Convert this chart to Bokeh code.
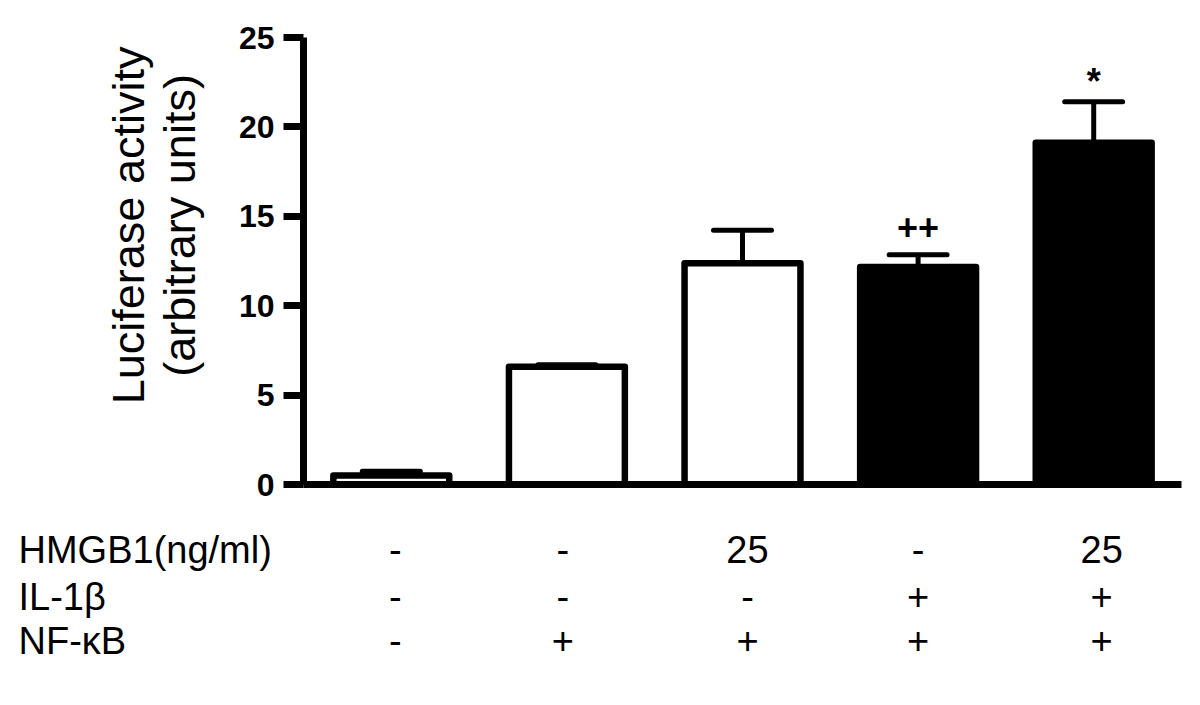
import math
from bokeh.plotting import figure
from bokeh.layouts import column, row
from bokeh.models import Range1d, FixedTicker, ColumnDataSource
from bokeh.core.properties import value
from bokeh.embed import file_html
from bokeh.resources import INLINE

# ---------------- data ----------------
means = [0.50, 6.58, 12.38, 12.16, 19.11]
errors = [0.24, 0.12, 1.84, 0.69, 2.30]
hmgb1 = ["-", "-", "25", "-", "25"]
il1b = ["-", "-", "-", "+", "+"]
nfkb = ["-", "+", "+", "+", "+"]
row_labels = ["HMGB1(ng/ml)", "IL-1\u03b2", "NF-\u03baB"]
marks = ["", "", "", "++", "*"]
y_ticks = [0, 5, 10, 15, 20, 25]
y_label_lines = ["Luciferase activity", "(arbitrary units)"]

# ---------------- layout (pixels) ----------------
TOTAL_W = 1195
LAB_W = 225            # width of the y-title panel
TOP_H = 515            # height of the chart row
TAB_H = 185            # height of the table panel
FL, FR, FT, FB = 303, 1181, 37, 484   # chart frame in page pixels
XMIN, XMAX, YMIN, YMAX = 0.5, 5.5, 0, 25
PX_PER_X = (FR - FL) / (XMAX - XMIN)
FONT = "Liberation Sans"

xs = list(range(1, len(means) + 1))
tops = [m + e for m, e in zip(means, errors)]
fills = ["black" if v == "+" else "white" for v in il1b]
mark_off = [-28 if m == "++" else -20 for m in marks]

src = ColumnDataSource(dict(x=xs, top=means, tops=tops, fill=fills, mark=marks,
                            moff=mark_off,
                            cl=[x - 0.165 for x in xs], cr=[x + 0.165 for x in xs]))

# ---------------- main chart ----------------
p = figure(width=TOTAL_W - LAB_W, height=TOP_H, output_backend="svg", toolbar_location=None,
           x_range=Range1d(XMIN, XMAX), y_range=Range1d(YMIN, YMAX),
           min_border_left=FL - LAB_W, min_border_right=TOTAL_W - FR,
           min_border_top=FT, min_border_bottom=TOP_H - FB)
p.outline_line_color = None
p.grid.visible = False

ya = p.yaxis[0]
ya.ticker = FixedTicker(ticks=y_ticks)
ya.minor_tick_line_color = None
ya.major_tick_out = 20
ya.major_tick_in = 0
ya.major_tick_line_width = 7
ya.axis_line_width = 7
ya.major_label_text_font = FONT
ya.major_label_text_font_style = "bold"
ya.major_label_text_font_size = "32px"
ya.major_label_text_color = "black"
ya.major_label_standoff = 9

xa = p.xaxis[0]
xa.ticker = FixedTicker(ticks=[])
xa.minor_tick_line_color = None
xa.major_tick_line_color = None
xa.major_label_text_font_size = "0px"
xa.axis_line_width = 7

p.segment(x0="x", y0="top", x1="x", y1="tops", source=src, line_color="black", line_width=5)
p.segment(x0="cl", y0="tops", x1="cr", y1="tops", source=src, line_color="black",
          line_width=5, line_cap="round")
p.vbar(x="x", top="top", bottom=0, width=0.66, source=src, fill_color="fill",
       line_color="black", line_width=6.5, line_join="round")
p.text(x="x", y="tops", text="mark", source=src, text_font=value(FONT),
       text_font_style="bold", text_font_size="36px", text_align="center",
       text_baseline="alphabetic", y_offset="moff", text_color="black")

# ---------------- y title panel ----------------
lab = figure(width=LAB_W, height=TOP_H, output_backend="svg", toolbar_location=None,
             x_range=Range1d(0, LAB_W), y_range=Range1d(0, TOP_H),
             x_axis_type=None, y_axis_type=None, min_border=0)
lab.outline_line_color = None
lab.grid.visible = False
lab_src = ColumnDataSource(dict(x=[127.5, 178.5], y=[TOP_H - 216.5] * 2, t=y_label_lines))
lab.text(x="x", y="y", text="t", source=lab_src, angle=math.pi / 2,
         text_font=value(FONT), text_font_size="45px", text_align="center",
         text_baseline="alphabetic", text_color="black")

# ---------------- table panel ----------------
tab = figure(width=TOTAL_W, height=TAB_H, output_backend="svg", toolbar_location=None,
             x_range=Range1d(XMIN - FL / PX_PER_X, XMIN + (TOTAL_W - FL) / PX_PER_X),
             y_range=Range1d(0, TAB_H), x_axis_type=None, y_axis_type=None, min_border=0)
tab.outline_line_color = None
tab.grid.visible = False

row_base = [549, 596, 640]          # text anchors in page pixels
col_shift = [4, -4, 5, 0, 8]
tx, ty, tt, to = [], [], [], []
for r, vals in enumerate([hmgb1, il1b, nfkb]):
    for i, v in enumerate(vals):
        tx.append(xs[i]); ty.append(TOP_H + TAB_H - row_base[r]); tt.append(v); to.append(col_shift[i])
tab.text(x="x", y="y", text="t", x_offset="o",
         source=ColumnDataSource(dict(x=tx, y=ty, t=tt, o=to)),
         text_font=value(FONT), text_font_size="38px", text_align="center",
         text_baseline="alphabetic", text_color="black")
tab.text(x=[XMIN + (18 - FL) / PX_PER_X] * len(row_labels),
         y=[TOP_H + TAB_H - b for b in row_base], text=row_labels,
         text_font=value(FONT), text_font_size="38px", text_align="left",
         text_baseline="alphabetic", text_color="black")

layout = column(row(lab, p), tab)
open("out.html", "w").write(file_html(layout, INLINE))
